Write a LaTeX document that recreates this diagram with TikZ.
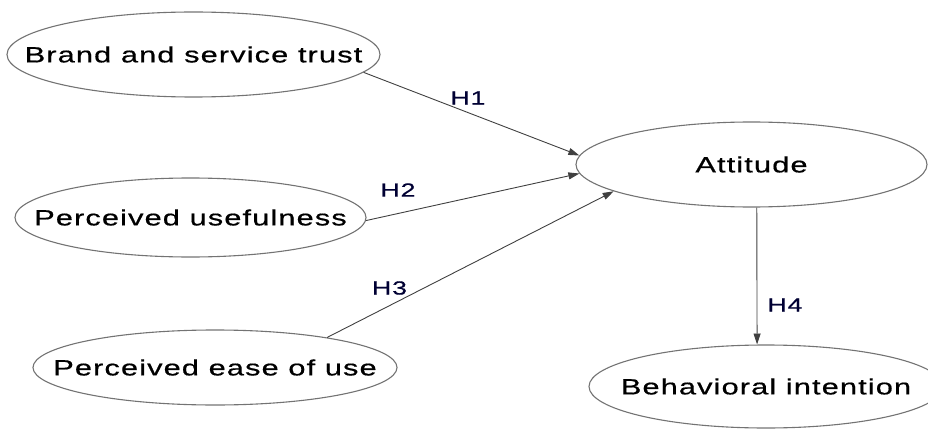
\documentclass[tikz,border=0pt]{standalone}
\usepackage{fontspec}
\newfontfamily\diagfont[FakeStretch=1.4,LetterSpace=5,FakeBold=0.6]{Liberation Sans}
\usetikzlibrary{shapes.geometric,arrows.meta}

\tikzset{
  construct/.style={ellipse, draw=black!55, line width=1.1pt, inner sep=0pt,
    font=\diagfont\fontsize{22}{26}\selectfont},
  hyp/.style={draw=black!75, line width=0.9pt, -{Triangle[length=11pt,width=7pt]}},
  hlabel/.style={font=\diagfont\fontsize{19}{22}\selectfont, text=black!80!blue}
}

\begin{document}
\begin{tikzpicture}[x=1pt,y=1pt]
    \useasboundingbox (0,0) rectangle (928,429);
    \clip (0,0) rectangle (928,429);
    % constructs
    \node[construct, minimum width=373pt, minimum height=85pt] (trust) at (193.5,374.5) {\makebox[0pt]{Brand and service trust}};
    \node[construct, minimum width=351pt, minimum height=79pt] (useful) at (190.5,211.5) {\makebox[0pt]{Perceived usefulness}};
    \node[construct, minimum width=364pt, minimum height=75pt] (ease) at (215,61.5) {\makebox[0pt]{Perceived ease of use}};
    \node[construct, minimum width=351pt, minimum height=85pt] (att) at (751.5,264.5) {\makebox[0pt]{Attitude}};
    \node[construct, minimum width=354pt, minimum height=83pt] (intent) at (766,42.5) {\makebox[0pt]{Behavioral intention}};
    % hypotheses
    \draw[hyp] (trust.354.7) -- (att.177.5);
    \draw[hyp] (useful.359.8) -- (att.183.8);
    \draw[hyp] (ease.15.1) -- (att.191.4);
    \draw[hyp] (att.277.4) -- (intent.102.2);
    \node[hlabel] (h1) at (468,331) {H1};
    \node[hlabel] (h2) at (398,239) {H2};
    \node[hlabel] (h3) at (389.5,141) {H3};
    \node[hlabel] (h4) at (785,124) {H4};
\end{tikzpicture}
\end{document}
